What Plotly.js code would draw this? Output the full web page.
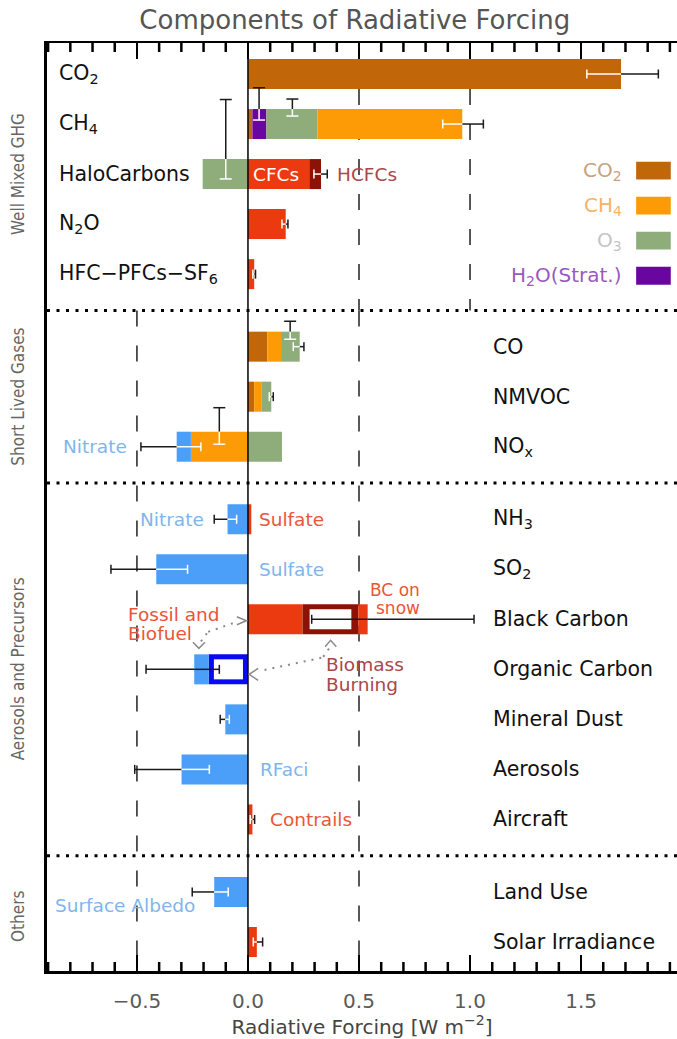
<!DOCTYPE html>
<html><head><meta charset="utf-8">
<script src="https://cdn.plot.ly/plotly-3.0.1.min.js"></script>
<style>html,body{margin:0;padding:0;background:#fff}</style>
</head><body><div id="chart" style="width:677px;height:1039px"></div>
<script>
// ---------- DATA ----------
const categories = ["CO<sub>2</sub>","CH<sub>4</sub>","HaloCarbons","N<sub>2</sub>O","HFC−PFCs−SF<sub>6</sub>","CO","NMVOC","NO<sub>x</sub>","NH<sub>3</sub>","SO<sub>2</sub>","Black Carbon","Organic Carbon","Mineral Dust","Aerosols","Aircraft","Land Use","Solar Irradiance"];
const groupOf = [0,0,0,0,0,1,1,1,2,2,2,2,2,2,2,3,3];
const groupNames = ["Well Mixed GHG","Short Lived Gases","Aerosols and Precursors","Others"];
// component forcings (W m-2), one value per category
const co2Part   = [1.68,0.02,0,0,0,0.087,0.028,0,0,0,0,0,0,0,0,0,0];
const h2oPart   = [0,0.063,0,0,0,0,0,0,0,0,0,0,0,0,0,0,0];
const o3Part    = [0,0.23,-0.204,0,0,0.084,0.045,0.153,0,0,0,0,0,0,0,0,0];
const ch4Part   = [0,0.652,0,0,0,0.062,0.032,-0.257,0,0,0,0,0,0,0,0,0];
const redPart   = [0,0,0.276,0.17,0.028,0,0,0,0.015,0,0.246,0,0,0,0.02,0,0.04];
const hcfcPart  = [0,0,0.053,0,0,0,0,0,0,0,0,0,0,0,0,0,0];
const bcBiomass = [0,0,0,0,0,0,0,0,0,0,0.251,0,0,0,0,0,0];
const bcSnow    = [0,0,0,0,0,0,0,0,0,0,0.042,0,0,0,0,0,0];
const ocBiomass = [0,0,0,0,0,0,0,0,0,0,0,-0.176,0,0,0,0,0];
const bluePart  = [0,0,0,0,0,0,0,-0.064,-0.092,-0.413,0,-0.066,-0.102,-0.299,0,-0.152,0];
// total uncertainty ranges
const errLo = [1.526,0.877,0.297,0.153,0.022,0.204,0.096,-0.482,-0.152,-0.617,0.287,-0.459,-0.125,-0.51,0.01,-0.251,0.024];
const errHi = [1.848,1.06,0.357,0.18,0.034,0.252,0.114,-0.212,-0.051,-0.272,1.018,-0.129,-0.084,-0.174,0.03,-0.089,0.066];
const errAllBlack = ["Black Carbon","Organic Carbon"];
// component uncertainty marks (drawn vertically)
const o3ErrCat = ["CH<sub>4</sub>","CH<sub>4</sub>","HaloCarbons","CO","NO<sub>x</sub>"];
const o3ErrX = [0.05,0.20,-0.10,0.19,-0.129];
const o3ErrTop = [-0.726,-0.5,-1.49,-0.508,-0.78];
const o3ErrBottom = [-0.08,-0.16,0.097,-0.148,-0.05];
const o3InnerRows = ["CH<sub>4</sub>"];
const tickVals = [-0.5,0,0.5,1,1.5];
const tickText = ["−0.5","0.0","0.5","1.0","1.5"];
const legendNames = ["CO<sub>2</sub>","CH<sub>4</sub>","O<sub>3</sub>","H<sub>2</sub>O(Strat.)"];

// ---------- LAYOUT / STYLE ----------
const FONT = "DejaVu Sans";
const GAP = 0.45, BARW = 0.6, CAP = 0.09, CAPX = 0.027;
const PXX = 222.07, PXY = 50.03;
const yPos = categories.map((c,i)=> i + groupOf[i]*GAP);
const Y0 = -0.62, Y1 = 17.93, XMIN = -0.905, XMAX = 1.932;
const minorVals = [];
for (let k = Math.ceil(XMIN*10); k <= Math.floor(XMAX*10); k++) if (Math.abs(k) % 5 !== 0) minorVals.push(k/10);
const series = {co2:co2Part,h2o:h2oPart,o3:o3Part,ch4:ch4Part,red:redPart,hcfc:hcfcPart,bcBio:bcBiomass,snow:bcSnow,ocBio:ocBiomass,blue:bluePart};
const colors = {co2:"#C2660A",h2o:"#6A06A0",o3:"#8FAD7B",ch4:"#FC9B05",red:"#EC3A10",hcfc:"#8C1208",bcBio:"#8C1208",snow:"#EC3A10",ocBio:"#0A0AF0",blue:"#4C9FF8"};
const posOrderA = ["co2","h2o","ch4","o3","red","bcBio","hcfc","snow"];
const posOrderB = ["co2","h2o","o3","ch4"];
const negOrder = ["o3","ch4","ocBio","blue"];
const bases = {}; Object.keys(series).forEach(k=>bases[k]=categories.map(()=>0));
const posTot = [], negTot = [];
categories.forEach((c,i)=>{
  let p=0, n=0;
  const po = o3InnerRows.includes(c) ? posOrderB : posOrderA;
  po.forEach(k=>{ const v=series[k][i]; if(v>0){bases[k][i]=p; p+=v;} });
  negOrder.forEach(k=>{ const v=series[k][i]; if(v<0){bases[k][i]=n; n+=v;} });
  posTot.push(p); negTot.push(n);
});
const traces = [];
Object.keys(series).forEach(k=>{
  const idx = categories.map((c,i)=>i).filter(i=>series[k][i]!==0);
  traces.push({type:'bar',orientation:'h',y:idx.map(i=>yPos[i]),x:idx.map(i=>series[k][i]),
    base:idx.map(i=>bases[k][i]),width:BARW,marker:{color:colors[k],line:{width:0}},hoverinfo:'skip',showlegend:false});
});
// hollow interiors of the biomass boxes
const hollow = {bcBio:{bx:7,by:5},ocBio:{bx:5,by:5}};
Object.keys(hollow).forEach(k=>{
  const idx = categories.map((c,i)=>i).filter(i=>series[k][i]!==0);
  const ix = hollow[k].bx/PXX, iy = hollow[k].by/PXY;
  traces.push({type:'bar',orientation:'h',y:idx.map(i=>yPos[i]),
    x:idx.map(i=>Math.abs(series[k][i])-2*ix),
    base:idx.map(i=>Math.min(bases[k][i],bases[k][i]+series[k][i])+ix),
    width:BARW-2*iy,marker:{color:'#ffffff',line:{width:0}},hoverinfo:'skip',showlegend:false});
});
// error bars
const W={x:[],y:[]}, K={x:[],y:[]};
function seg(t,x0,y0,x1,y1){t.x.push(x0,x1,null);t.y.push(y0,y1,null);}
categories.forEach((c,i)=>{
  const lo=errLo[i], hi=errHi[i]; if(lo==null) return;
  const y=yPos[i];
  const tot = (lo+hi)>=0 ? posTot[i] : negTot[i];
  const a=Math.min(0,tot), b=Math.max(0,tot);
  const white = !errAllBlack.includes(c);
  const inside = x => white && x>=a-1e-9 && x<=b+1e-9;
  const pts=[lo]; if(tot>lo && tot<hi) pts.push(tot); pts.push(hi);
  for(let j=0;j<pts.length-1;j++){ const m=(pts[j]+pts[j+1])/2; seg(inside(m)?W:K,pts[j],y,pts[j+1],y); }
  seg(inside(lo)?W:K,lo,y-CAP,lo,y+CAP);
  seg(inside(hi)?W:K,hi,y-CAP,hi,y+CAP);
});
o3ErrCat.forEach((c,j)=>{
  const i=categories.indexOf(c), yc=yPos[i], x=o3ErrX[j];
  const top=yc+o3ErrTop[j], bot=yc+o3ErrBottom[j], edge=yc-BARW/2;
  seg(K,x,top,x,Math.min(bot,edge));
  if(bot>edge) seg(W,x,edge,x,bot);
  seg(K,x-CAPX,top,x+CAPX,top);
  seg(bot>edge?W:K,x-CAPX,bot,x+CAPX,bot);
});
traces.push({type:'scatter',mode:'lines',x:K.x,y:K.y,line:{color:'#1a1a1a',width:1.5},hoverinfo:'skip',showlegend:false,connectgaps:false});
traces.push({type:'scatter',mode:'lines',x:W.x,y:W.y,line:{color:'#ffffff',width:1.5},hoverinfo:'skip',showlegend:false,connectgaps:false});
// minor ticks (top and bottom, pointing inwards)
const MT = 9/PXY, TK={x:[],y:[]};
minorVals.forEach(v=>{ seg(TK,v,Y1,v,Y1-MT); seg(TK,v,Y0,v,Y0+MT); });
traces.push({type:'scatter',mode:'lines',x:TK.x,y:TK.y,line:{color:'#000',width:2.5},hoverinfo:'skip',showlegend:false,connectgaps:false,cliponaxis:false});

// shapes
const shapes=[];
const seps=[];
for(let g=1;g<groupNames.length;g++){
  const last=Math.max(...categories.map((c,i)=>groupOf[i]===g-1?i:-1));
  const first=categories.findIndex((c,i)=>groupOf[i]===g);
  seps.push((yPos[last]+yPos[first])/2);
}
seps.forEach(s=>shapes.push({type:'line',xref:'paper',yref:'y',x0:0,x1:1,y0:s,y1:s,line:{color:'#000',width:3,dash:'3px,6.5px'},layer:'below'}));
const dashStyle={color:'#222',width:1.5,dash:'16px,19px'};
[0.5,1.0].forEach(v=>shapes.push({type:'line',xref:'x',yref:'y',x0:v,x1:v,y0:yPos[0]+BARW/2,y1:seps[0],line:dashStyle,layer:'below'}));
[-0.5,0.5].forEach(v=>shapes.push({type:'line',xref:'x',yref:'y',x0:v,x1:v,y0:seps[0],y1:Y1,line:dashStyle,layer:'below'}));
shapes.push({type:'line',xref:'x',yref:'y',x0:0,x1:0,y0:Y0,y1:Y1,line:{color:'#000',width:1.5},layer:'above'});
// legend boxes
const legColors=[colors.co2,colors.ch4,colors.o3,colors.h2o];
const legTextColors=["#C9A27E","#F7B364","#C4C4C4","#9B59C0"];
const LEGTOP=1.754, LEGSTEP=0.7, LEGH=0.356;
legColors.forEach((col,k)=>shapes.push({type:'rect',xref:'x',yref:'y',x0:1.748,x1:1.904,y0:LEGTOP+k*LEGSTEP,y1:LEGTOP+k*LEGSTEP+LEGH,fillcolor:col,line:{width:0}}));
// dotted arrows
const arrowLine={color:'#8a8a8a',width:2,dash:'2px,6px'};
const arrowHead={color:'#8a8a8a',width:1.5};
[[-0.179,11.15,-0.05,10.95],[-0.185,11.18,-0.215,11.36],[0.339,11.65,0.372,11.44],[0.33,11.67,0.055,11.93]].forEach(a=>
  shapes.push({type:'line',xref:'x',yref:'y',x0:a[0],y0:a[1],x1:a[2],y1:a[3],line:arrowLine}));
["M -0.05 10.85 L -0.007 10.93 L -0.05 11.01","M -0.248 11.36 L -0.221 11.48 L -0.194 11.36",
 "M 0.347 11.45 L 0.372 11.32 L 0.398 11.45","M 0.046 11.88 L 0.005 12.0 L 0.046 12.12"].forEach(p=>
  shapes.push({type:'path',xref:'x',yref:'y',path:p,line:arrowHead}));

// annotations
const ann=[];
categories.forEach((c,i)=>{
  const left = groupOf[i]===0;
  ann.push({xref:'x',yref:'y',x:left?-0.858:1.096,y:yPos[i],text:c,showarrow:false,xanchor:'left',yanchor:'middle',
    font:{family:FONT,size:20.5,color:'#111'}});
});
groupNames.forEach((g,gi)=>{
  const ys=yPos.filter((y,i)=>groupOf[i]===gi);
  ann.push({xref:'paper',yref:'y',x:-0.046,y:(Math.min(...ys)+Math.max(...ys))/2,text:g,textangle:-90,showarrow:false,
    xanchor:'center',yanchor:'middle',font:{family:"Liberation Sans Narrow, DejaVu Sans Condensed, Liberation Sans",size:17,color:'#666'}});
});
const blueTxt="#7DB6EE", redTxt="#EA5538", dredTxt="#A84848";
const inLabels=[
  ["CFCs","HaloCarbons",0.018,0,"#ffffff","left",18.5],
  ["HCFCs","HaloCarbons",0.398,0,dredTxt,"left",18.5],
  ["Nitrate","NO<sub>x</sub>",-0.838,0,blueTxt,"left",18.5],
  ["Nitrate","NH<sub>3</sub>",-0.49,0,blueTxt,"left",18.5],
  ["Sulfate","NH<sub>3</sub>",0.043,0,redTxt,"left",18.5],
  ["Sulfate","SO<sub>2</sub>",0.043,0,blueTxt,"left",18.5],
  ["Fossil and","Black Carbon",-0.545,-0.1,redTxt,"left",18.5],
  ["Biofuel","Black Carbon",-0.545,0.28,redTxt,"left",18.5],
  ["BC on","Black Carbon",0.778,-0.58,redTxt,"right",17],
  ["snow","Black Carbon",0.778,-0.22,redTxt,"right",17],
  ["Biomass","Organic Carbon",0.348,-0.1,dredTxt,"left",18.5],
  ["Burning","Organic Carbon",0.348,0.3,dredTxt,"left",18.5],
  ["RFaci","Aerosols",0.048,0,blueTxt,"left",18.5],
  ["Contrails","Aircraft",0.093,0,redTxt,"left",18.5],
  ["Surface Albedo","Land Use",-0.872,0.27,blueTxt,"left",18.5]
];
inLabels.forEach(l=>{
  const i=categories.indexOf(l[1]);
  ann.push({xref:'x',yref:'y',x:l[2],y:yPos[i]+l[3],text:l[0],showarrow:false,xanchor:l[5],yanchor:'middle',
    borderpad:0,font:{family:FONT,size:l[6],color:l[4]}});
});
legendNames.forEach((n,k)=>ann.push({xref:'x',yref:'y',x:1.692,y:LEGTOP+k*LEGSTEP+LEGH/2,text:n,showarrow:false,xanchor:'right',yanchor:'middle',
  font:{family:FONT,size:20,color:legTextColors[k]}}));

const layout={
  width:677,height:1039,margin:{l:47,r:0,t:43,b:68},paper_bgcolor:'#fff',plot_bgcolor:'#fff',
  barmode:'overlay',showlegend:false,
  title:{text:"Components of Radiative Forcing",font:{family:FONT,size:26,color:'#555'},x:0.524,xref:'container',xanchor:'center',y:1-20/1039,yref:'container',yanchor:'middle'},
  xaxis:{range:[XMIN,XMAX],showgrid:false,zeroline:false,showline:true,linecolor:'#000',linewidth:2.5,mirror:'allticks',
    ticks:'inside',ticklen:16,tickwidth:2.5,tickcolor:'#000',tickmode:'array',tickvals:tickVals,ticktext:tickText,
    tickfont:{family:FONT,size:20,color:'#5a5a5a'},ticklabelstandoff:10,
    title:{text:"Radiative Forcing [W m<sup>−2</sup>]",font:{family:FONT,size:20,color:'#444'},standoff:6},fixedrange:true},
  yaxis:{range:[Y1,Y0],showgrid:false,zeroline:false,showline:true,linecolor:'#000',linewidth:3,ticks:'',showticklabels:false,fixedrange:true},
  shapes:shapes,annotations:ann
};
Plotly.newPlot('chart',traces,layout,{displayModeBar:false,staticPlot:true});
</script></body></html>
